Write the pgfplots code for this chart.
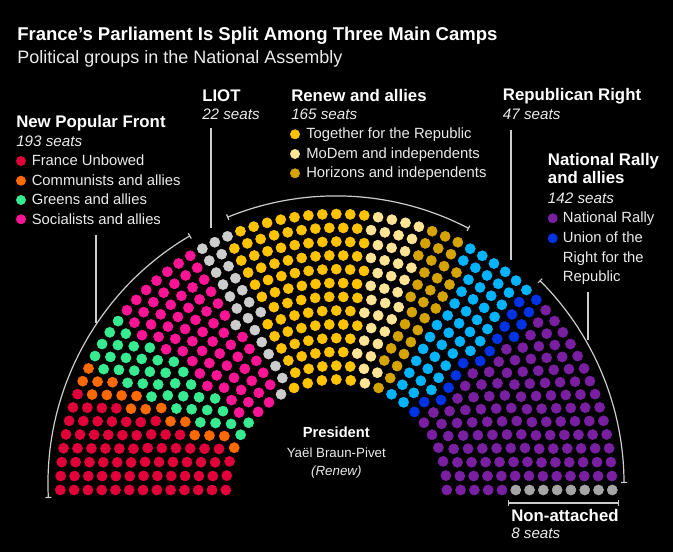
\documentclass[border=0pt]{standalone}
\usepackage{fontspec}
\setmainfont{Liberation Sans}
\usepackage{pgfplots}
\pgfplotsset{compat=1.18}
\usetikzlibrary{arrows.meta}

\definecolor{cLFI}{RGB}{226,0,58}
\definecolor{cGDR}{RGB}{255,106,0}
\definecolor{cECO}{RGB}{55,235,145}
\definecolor{cSOC}{RGB}{255,20,150}
\definecolor{cLIOT}{RGB}{205,205,205}
\definecolor{cEPR}{RGB}{255,195,0}
\definecolor{cDEM}{RGB}{255,228,150}
\definecolor{cHOR}{RGB}{214,164,0}
\definecolor{cDR}{RGB}{0,180,255}
\definecolor{cUDR}{RGB}{0,50,230}
\definecolor{cRN}{RGB}{122,31,162}
\definecolor{cNI}{RGB}{165,165,165}
\definecolor{ldgray}{RGB}{205,205,205}
\definecolor{txt}{RGB}{235,235,235}

% ---- seat layout: 13 rows, seats sorted by angle, groups in order ----
\makeatletter
\newcount\ps@rank \newcount\ps@A \newcount\ps@B \newcount\ps@C
\newcount\ps@party \newcount\ps@rem
% seats in each row (inner to outer)
\def\ps@n#1{\ifcase#1 25\or 29\or 32\or 35\or 38\or 41\or 44\or 48\or 51\or 54\or 57\or 60\or 63\fi}
% seats of each group, left to right:
% 1 France Unbowed, 2 Communists, 3 Greens, 4 Socialists, 5 LIOT,
% 6 Together for the Republic, 7 MoDem, 8 Horizons, 9 Republican Right,
% 10 Union of the Right, 11 National Rally, 12 Non-attached
\def\ps@seats#1{\ifcase#1 0\or 72\or 17\or 38\or 66\or 22\or 98\or 36\or 31\or 47\or 16\or 126\or 8\fi}
\foreach \p in {1,...,12}{\expandafter\gdef\csname ps@c@\p\endcsname{}}
\foreach \i in {0,...,12}{%
  \edef\ps@nm{\number\numexpr\ps@n{\i}-1\relax}%
  \pgfmathsetmacro\ps@r{110.5+13.79*\i}%
  \foreach \j in {0,...,\ps@nm}{%
    \global\ps@rank=0\relax
    \foreach \k in {0,...,12}{%
      \ps@A=\numexpr\j*(\ps@n{\k}-1)\relax
      \ps@B=\ps@nm\relax
      \ps@C=\numexpr\ps@A+\ps@B-1\relax
      \divide\ps@C by \ps@B
      \global\advance\ps@rank by \ps@C
      \ps@C=\ps@A \divide\ps@C by \ps@B \multiply\ps@C by \ps@B
      \ifnum\ps@C=\ps@A \ifnum\k<\i\relax \global\advance\ps@rank by 1\relax\fi\fi
    }%
    \global\ps@rem=\ps@rank\relax
    \global\ps@party=0\relax
    \foreach \p in {1,...,12}{%
      \ifnum\ps@party=0\relax
        \ifnum\ps@rem<\ps@seats{\p}\relax
          \global\ps@party=\p\relax
        \else
          \global\advance\ps@rem by -\ps@seats{\p}\relax
        \fi
      \fi
    }%
    \pgfmathsetmacro\ps@th{180*(1-\j/\ps@nm)}%
    \pgfmathsetmacro\ps@x{336.3+\ps@r*cos(\ps@th)}%
    \pgfmathsetmacro\ps@y{62+\ps@r*sin(\ps@th)}%
    \expandafter\xdef\csname ps@c@\the\ps@party\endcsname{\csname ps@c@\the\ps@party\endcsname(\ps@x,\ps@y)}%
  }%
}
\makeatother
\newcommand\plotgroup[2]{%
  \edef\pgtmp{\noexpand\addplot[only marks, mark=*, color=#2, mark size=3.8pt, forget plot] coordinates {\csname ps@c@#1\endcsname};}\pgtmp}
\newcommand\legdot[3]{\addplot[only marks, mark=*, color=#1, mark size=3.5pt, forget plot] coordinates {(#2,#3)};}

\tikzset{
 ttl/.style={anchor=base west, inner sep=0pt, text=white, font=\fontsize{13.9}{16}\selectfont\bfseries},
 sub/.style={anchor=base west, inner sep=0pt, text=txt, font=\fontsize{13.5}{16}\selectfont},
 grp/.style={anchor=base west, inner sep=0pt, text=white, font=\fontsize{12.6}{15}\selectfont\bfseries},
 sts/.style={anchor=base west, inner sep=0pt, text=txt, font=\fontsize{11.4}{14}\selectfont\itshape},
 leg/.style={anchor=base west, inner sep=0pt, text=txt, font=\fontsize{11.1}{13}\selectfont},
 lead/.style={draw=ldgray, line width=0.9pt},
 brk/.style={draw=ldgray, line width=0.9pt, arrows={Bar[width=4.5pt]-Bar[width=4.5pt]}},
}

\begin{document}
\begin{tikzpicture}
\fill[black] (0,0) rectangle (504.75pt,414pt);
\begin{axis}[at={(0,0)}, anchor=south west, width=504.75pt, height=414pt,
  scale only axis, xmin=0, xmax=673, ymin=0, ymax=552, hide axis, clip=false]
\plotgroup{1}{cLFI}
\plotgroup{2}{cGDR}
\plotgroup{3}{cECO}
\plotgroup{4}{cSOC}
\plotgroup{5}{cLIOT}
\plotgroup{6}{cEPR}
\plotgroup{7}{cDEM}
\plotgroup{8}{cHOR}
\plotgroup{9}{cDR}
\plotgroup{10}{cUDR}
\plotgroup{11}{cRN}
\plotgroup{12}{cNI}

% legend dots
\legdot{cLFI}{21}{391}
\legdot{cGDR}{21}{371.3}
\legdot{cECO}{21}{352}
\legdot{cSOC}{21}{332.7}
\legdot{cEPR}{295}{417.7}
\legdot{cDEM}{295}{398}
\legdot{cHOR}{295}{378.7}
\legdot{cRN}{552.7}{333.7}
\legdot{cUDR}{552.7}{313.7}

% titles
\node[ttl] at (axis cs:17,511) {France’s Parliament Is Split Among Three Main Camps};
\node[sub] at (axis cs:17,488.7) {Political groups in the National Assembly};

% New Popular Front
\node[grp] at (axis cs:16,424) {New Popular Front};
\node[sts] at (axis cs:16,405.3) {193 seats};
\node[leg] at (axis cs:31.5,386.3) {France Unbowed};
\node[leg] at (axis cs:31.5,366.7) {Communists and allies};
\node[leg] at (axis cs:31.5,347) {Greens and allies};
\node[leg] at (axis cs:31.5,327.5) {Socialists and allies};

% LIOT
\node[grp] at (axis cs:202,450.3) {LIOT};
\node[sts] at (axis cs:202,432.7) {22 seats};

% Renew
\node[grp] at (axis cs:291,450.3) {Renew and allies};
\node[sts] at (axis cs:291,432.7) {165 seats};
\node[leg] at (axis cs:306,413) {Together for the Republic};
\node[leg] at (axis cs:306,393.3) {MoDem and independents};
\node[leg] at (axis cs:306,374) {Horizons and independents};

% Republican Right
\node[grp] at (axis cs:502.7,451.3) {Republican Right};
\node[sts] at (axis cs:502.7,432.7) {47 seats};

% National Rally
\node[grp] at (axis cs:547.7,386) {National Rally};
\node[grp] at (axis cs:547.7,368) {and allies};
\node[sts] at (axis cs:547.7,348.7) {142 seats};
\node[leg] at (axis cs:562.7,329) {National Rally};
\node[leg] at (axis cs:562.7,309) {Union of the};
\node[leg] at (axis cs:562.7,289) {Right for the};
\node[leg] at (axis cs:562.7,270) {Republic};

% President
\node[anchor=base, inner sep=0pt, text=white, font=\fontsize{11}{13}\selectfont\bfseries] at (axis cs:336.3,114.7) {President};
\node[anchor=base, inner sep=0pt, text=txt, font=\fontsize{10}{12}\selectfont] at (axis cs:336.3,94.7) {Yaël Braun-Pivet};
\node[anchor=base, inner sep=0pt, text=txt, font=\fontsize{10}{12}\selectfont\itshape] at (axis cs:336.3,76.3) {(Renew)};

% Non-attached
\node[grp] at (axis cs:511,31) {Non-attached};
\node[sts] at (axis cs:511,13) {8 seats};

% leader lines
\draw[lead] (axis cs:96,317) -- (axis cs:96,229);
\draw[lead] (axis cs:211,424) -- (axis cs:211,324);
\draw[lead] (axis cs:511,422) -- (axis cs:511,292);
\draw[lead] (axis cs:588,260) -- (axis cs:588,212);

% brackets
\draw[brk] ([shift={(182.8:216pt)}]axis cs:336,68) arc[start angle=182.8, end angle=120.4, radius=216pt];
\draw[brk] ([shift={(112.2:216pt)}]axis cs:336,68) arc[start angle=112.2, end angle=62.5, radius=216pt];
\draw[brk] ([shift={(45:216pt)}]axis cs:336,68) arc[start angle=45, end angle=0.2, radius=216pt];
\draw[brk] (axis cs:508,49) -- (axis cs:619,49);
\end{axis}
\end{tikzpicture}
\end{document}
